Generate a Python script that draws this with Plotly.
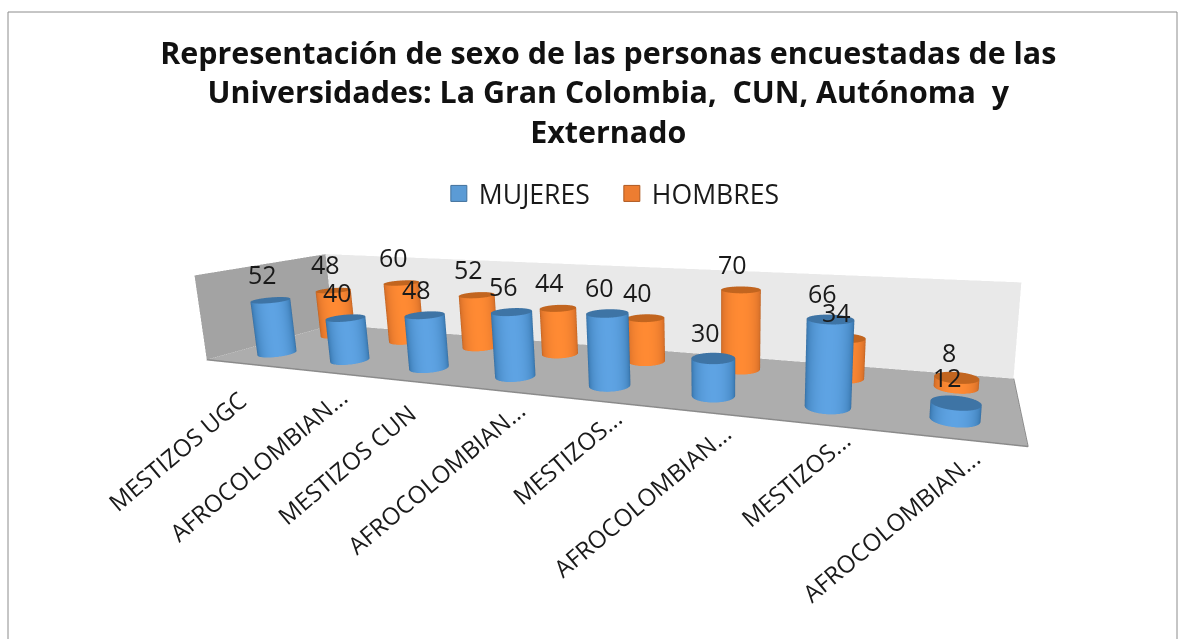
import numpy as np
import plotly.graph_objects as go

categories = ["MESTIZOS UGC", "AFROCOLOMBIAN...", "MESTIZOS CUN", "AFROCOLOMBIAN...",
              "MESTIZOS...", "AFROCOLOMBIAN...", "MESTIZOS...", "AFROCOLOMBIAN..."]
mujeres = [52, 40, 48, 56, 60, 30, 66, 12]
hombres = [48, 60, 52, 44, 40, 70, 34, 8]
title_text = ("Representación de sexo de las personas encuestadas de las<br>"
              "Universidades: La Gran Colombia,  CUN, Autónoma  y<br>Externado")

ASPECT = dict(x=1.007, y=0.225, z=0.114)
EYE = dict(x=0.434, y=-0.835, z=0.205)
UP = dict(x=0.0113, y=0.0041, z=1)
CENTER = dict(x=0.116, y=0.039, z=0.005)
XR, YR, ZR = (0, 8), (0, 2), (0, 80)
R_WORLD = 0.024
FONT = "Open Sans"
INK = "#1a1a1a"
LABEL_XSHIFT = [14, 39, 25, 45, 43, 43, 41, 35]
LABEL_YSHIFT = [-17, -6, -14, -1, 1, -2, 4, 0]

ux = ASPECT["x"] / (XR[1] - XR[0])
uy = ASPECT["y"] / (YR[1] - YR[0])

BLUE = [[0, "#2f5f8c"], [0.45, "#3f7fb8"], [1, "#5ea3e3"]]
ORANGE = [[0, "#a8561a"], [0.45, "#d9712a"], [1, "#ff8a33"]]
BLUE_TOP = "#3e74a5"
ORANGE_TOP = "#c2651f"


def flat(c):
    return [[0, c], [1, c]]


NOLIGHT = dict(ambient=1, diffuse=0, specular=0, roughness=1, fresnel=0)


def plane(x, y, z, color):
    return go.Surface(x=x, y=y, z=z, surfacecolor=np.zeros_like(np.array(z, float)),
                      colorscale=flat(color), showscale=False, lighting=NOLIGHT,
                      hoverinfo="skip", showlegend=False)


def cylinder(ci, row, value, scale, top):
    cx, cy = ci + 0.5, row + 0.5
    th = np.linspace(0, 2 * np.pi, 73)
    wx, wy = (cx - 4) * ux, (cy - 1) * uy
    ex, ey = EYE["x"] - wx, EYE["y"] - wy
    n = np.hypot(ex, ey)
    ex, ey = ex / n, ey / n
    shade = np.clip(np.cos(th) * ex + np.sin(th) * ey, 0, 1) ** 0.8
    X = np.vstack([cx + R_WORLD / ux * np.cos(th)] * 2)
    Y = np.vstack([cy + R_WORLD / uy * np.sin(th)] * 2)
    Z = np.vstack([np.zeros_like(th), np.full_like(th, value)])
    body = go.Surface(x=X, y=Y, z=Z, surfacecolor=np.vstack([shade, shade]), colorscale=scale,
                      cmin=0, cmax=1, showscale=False, lighting=NOLIGHT, hoverinfo="skip",
                      showlegend=False)
    rr = np.array([0, 1.0])
    TX = cx + np.outer(rr, R_WORLD / ux * np.cos(th))
    TY = cy + np.outer(rr, R_WORLD / uy * np.sin(th))
    cap = plane(TX, TY, np.full_like(TX, value), top)
    return [body, cap]


traces = []
# floor, left wall, back wall
traces.append(plane([[XR[0], XR[1]], [XR[0], XR[1]]], [[YR[0], YR[0]], [YR[1], YR[1]]],
                    [[0, 0], [0, 0]], "#adadad"))
traces.append(plane([[XR[0], XR[0]], [XR[0], XR[0]]], [[YR[0], YR[1]], [YR[0], YR[1]]],
                    [[0, 0], [ZR[1], ZR[1]]], "#a3a3a3"))
traces.append(plane([[XR[0], XR[1]], [XR[0], XR[1]]], [[YR[1], YR[1]], [YR[1], YR[1]]],
                    [[0, 0], [ZR[1], ZR[1]]], "#e9e9e9"))
traces.append(go.Scatter3d(x=[XR[0], XR[1], XR[1]], y=[YR[0], YR[0], YR[1]], z=[0, 0, 0], mode="lines",
                           line=dict(color="#8a8a8a", width=3), hoverinfo="skip", showlegend=False))

for i in range(len(categories)):
    traces += cylinder(i, 1, hombres[i], ORANGE, ORANGE_TOP)
for i in range(len(categories)):
    traces += cylinder(i, 0, mujeres[i], BLUE, BLUE_TOP)

# legend entries
traces.append(go.Scatter(x=[None], y=[None], mode="markers", name="MUJERES",
                         marker=dict(symbol="square", size=17, color="#5b9bd5", line=dict(color="#41719c", width=1))))
traces.append(go.Scatter(x=[None], y=[None], mode="markers", name="HOMBRES",
                         marker=dict(symbol="square", size=17, color="#ed7d31", line=dict(color="#ae5a21", width=1))))

fig = go.Figure(traces)

ann = []
for i, c in enumerate(categories):
    ann.append(dict(x=i + 0.5, y=0, z=0, text=c, textangle=-40, showarrow=False, xanchor="right",
                    yanchor="top", xshift=LABEL_XSHIFT[i], yshift=LABEL_YSHIFT[i],
                    font=dict(family=FONT, size=24, color=INK)))
for row, vals in ((1, hombres), (0, mujeres)):
    for i, v in enumerate(vals):
        ann.append(dict(x=i + 0.5, y=row + 0.5, z=v, text=str(v), showarrow=False, xanchor="center",
                        yanchor="middle", xshift=-8, yshift=26, font=dict(family=FONT, size=25, color=INK)))

hidden = dict(visible=False, showgrid=False, zeroline=False, showspikes=False, showbackground=False)
fig.update_layout(
    template="none",
    width=1195, height=639,
    margin=dict(l=0, r=0, t=0, b=0),
    paper_bgcolor="white",
    plot_bgcolor="white",
    showlegend=True,
    legend=dict(orientation="h", x=0.512, xanchor="center", y=0.697, yanchor="middle",
                font=dict(family=FONT, size=26.6, color=INK), itemwidth=30, traceorder="normal",
                entrywidth=128, entrywidthmode="pixels",
                bgcolor="rgba(0,0,0,0)"),
    title=dict(text=title_text, x=0.509, xanchor="center", y=0.9, yanchor="top",
               font=dict(family=FONT, size=30.4, color="#111111", weight="bold")),
    xaxis=dict(visible=False), yaxis=dict(visible=False),
    scene=dict(
        domain=dict(x=[0.138, 1], y=[0, 1]),
        aspectmode="manual", aspectratio=ASPECT,
        camera=dict(eye=EYE, center=CENTER, up=UP,
                    projection=dict(type="perspective")),
        xaxis=dict(range=list(XR), **hidden),
        yaxis=dict(range=list(YR), **hidden),
        zaxis=dict(range=list(ZR), **hidden),
        annotations=ann,
        dragmode=False,
    ),
    shapes=[dict(type="rect", xref="paper", yref="paper", x0=8 / 1195, x1=1177 / 1195, y0=-0.01, y1=1 - 12 / 639,
                 line=dict(color="#8c8c8c", width=1), fillcolor="rgba(0,0,0,0)")],
)
fig.write_html("out.html", config=dict(displayModeBar=False),
               post_script="document.body.style.margin='0';document.documentElement.style.overflow='hidden';")
